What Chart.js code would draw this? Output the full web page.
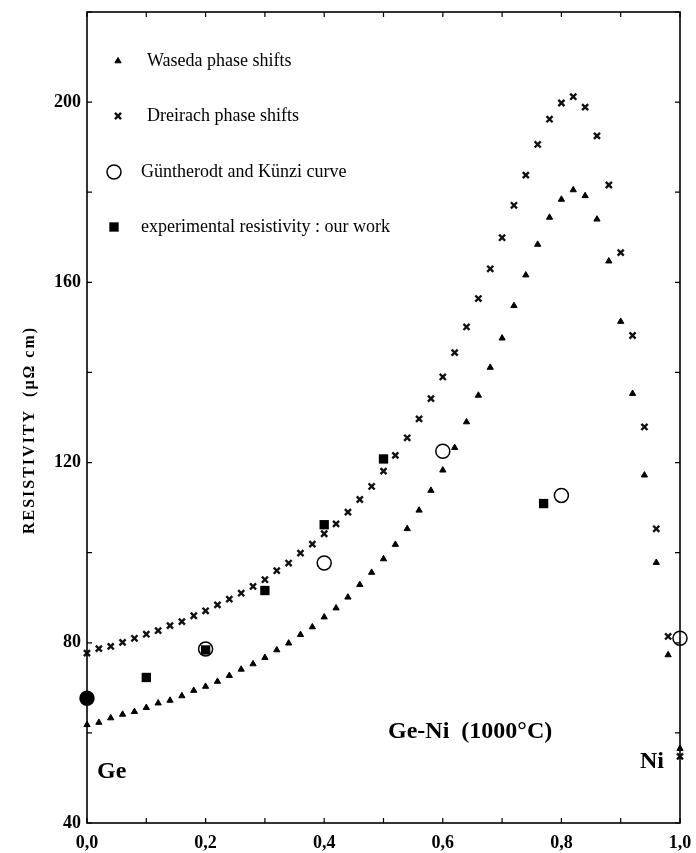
<!DOCTYPE html>
<html>
<head>
<meta charset="utf-8">
<script src="https://cdn.jsdelivr.net/npm/chart.js@4.4.1/dist/chart.umd.min.js"></script>
<style>
  html, body { margin: 0; padding: 0; background: #fff; }
  #wrap { width: 696px; height: 853px; }
</style>
</head>
<body>
<div id="wrap"><canvas id="chartRho" width="696" height="853"></canvas></div>
<script>
// composition x (Ni fraction), step 0.02
const composition = [
  0.00, 0.02, 0.04, 0.06, 0.08, 0.10, 0.12, 0.14, 0.16, 0.18,
  0.20, 0.22, 0.24, 0.26, 0.28, 0.30, 0.32, 0.34, 0.36, 0.38,
  0.40, 0.42, 0.44, 0.46, 0.48, 0.50, 0.52, 0.54, 0.56, 0.58,
  0.60, 0.62, 0.64, 0.66, 0.68, 0.70, 0.72, 0.74, 0.76, 0.78,
  0.80, 0.82, 0.84, 0.86, 0.88, 0.90, 0.92, 0.94, 0.96, 0.98,
  1.00
];
const wasedaRho = [
  61.8, 62.3, 63.3, 64.1, 64.7, 65.6, 66.6, 67.2, 68.2, 69.4,
  70.3, 71.4, 72.7, 74.1, 75.3, 76.7, 78.4, 79.9, 81.8, 83.5,
  85.7, 87.7, 90.1, 92.9, 95.6, 98.6, 101.8, 105.3, 109.4, 113.8,
  118.3, 123.3, 129.0, 134.9, 141.1, 147.6, 154.8, 161.6, 168.4, 174.4,
  178.4, 180.5, 179.2, 174.0, 164.7, 151.3, 135.3, 117.2, 97.8, 77.3,
  56.5
];
const dreirachRho = [
  77.7, 78.7, 79.2, 80.1, 81.0, 81.9, 82.7, 83.8, 84.7, 86.0,
  87.1, 88.4, 89.7, 91.0, 92.5, 94.0, 96.0, 97.7, 99.9, 101.9,
  104.2, 106.4, 109.0, 111.8, 114.7, 118.1, 121.6, 125.5, 129.7, 134.2,
  139.0, 144.4, 150.1, 156.4, 163.0, 169.9, 177.1, 183.8, 190.6, 196.2,
  199.8, 201.2, 198.9, 192.5, 181.6, 166.6, 148.2, 127.9, 105.3, 81.4,
  54.8
];
const guntherodtX = [0.0, 0.2, 0.4, 0.6, 0.8, 1.0];
const guntherodtRho = [67.7, 78.6, 97.7, 122.5, 112.7, 81.0];
const experimentX = [0.0, 0.1, 0.2, 0.3, 0.4, 0.5, 0.77];
const experimentRho = [67.7, 72.3, 78.4, 91.6, 106.2, 120.8, 110.9];

const xTickLabels = ['0,0', '0,2', '0,4', '0,6', '0,8', '1,0'];
const yTickLabels = ['40', '80', '120', '160', '200'];
const yTitle = 'RESISTIVITY  (μΩ cm)';
const legendNames = [
  'Waseda phase shifts',
  'Dreirach phase shifts',
  'Güntherodt and Künzi curve',
  'experimental resistivity : our work'
];

const SERIF = "'Liberation Serif', 'Times New Roman', serif";

function pairs(xs, ys) {
  return xs.map((x, i) => ({ x: x, y: ys[i] }));
}

const styles = {
  waseda: { pointStyle: 'triangle', radius: 3.6, fill: '#000', stroke: '#000', lineWidth: 1 },
  dreirach: { pointStyle: 'crossRot', radius: 4.3, fill: '#000', stroke: '#111', lineWidth: 2.4 },
  guntherodt: { pointStyle: 'circle', radius: 7, fill: 'rgba(0,0,0,0)', stroke: '#000', lineWidth: 1.5 },
  experiment: { pointStyle: 'rect', radius: 6.6, fill: '#000', stroke: '#000', lineWidth: 0 }
};

function ds(label, data, s, extra) {
  return Object.assign({
    label: label,
    data: data,
    pointStyle: s.pointStyle,
    pointRadius: s.radius,
    pointHoverRadius: s.radius,
    pointBackgroundColor: s.fill,
    pointBorderColor: s.stroke,
    pointBorderWidth: s.lineWidth,
    showLine: false,
    clip: false
  }, extra || {});
}

// box, inward ticks, legend, axis title and text labels
const framePlugin = {
  id: 'frame',
  afterDatasetsDraw(chart) {
    const ctx = chart.ctx;
    const { left, right, top, bottom } = chart.chartArea;
    const xs = chart.scales.x, ys = chart.scales.y;
    ctx.save();
    ctx.strokeStyle = '#000';
    ctx.lineWidth = 1.6;
    ctx.strokeRect(left, top, right - left, bottom - top);
    ctx.lineWidth = 1.2;
    ctx.beginPath();
    xs.ticks.forEach(t => {
      const px = xs.getPixelForValue(t.value);
      ctx.moveTo(px, bottom); ctx.lineTo(px, bottom - 5);
      ctx.moveTo(px, top); ctx.lineTo(px, top + 5);
    });
    ys.ticks.forEach(t => {
      const py = ys.getPixelForValue(t.value);
      ctx.moveTo(left, py); ctx.lineTo(left + 5, py);
      ctx.moveTo(right, py); ctx.lineTo(right - 5, py);
    });
    ctx.stroke();

    // legend
    const order = [styles.waseda, styles.dreirach, styles.guntherodt, styles.experiment];
    const rows = [
      { mx: 118, tx: 147, y: 61 },
      { mx: 118, tx: 147, y: 116 },
      { mx: 114, tx: 141, y: 172 },
      { mx: 114, tx: 141, y: 227 }
    ];
    ctx.font = '18px ' + SERIF;
    ctx.textBaseline = 'middle';
    ctx.textAlign = 'left';
    order.forEach((s, i) => {
      const r = rows[i];
      ctx.fillStyle = s.fill;
      ctx.strokeStyle = s.stroke;
      ctx.lineWidth = s.lineWidth;
      Chart.helpers.drawPoint(ctx, { pointStyle: s.pointStyle, radius: s.radius, rotation: 0, borderWidth: s.lineWidth }, r.mx, r.y);
      ctx.fillStyle = '#000';
      ctx.fillText(legendNames[i], r.tx, r.y);
    });

    // y axis title, letter-spaced like the print
    ctx.save();
    ctx.translate(30, 430);
    ctx.rotate(-Math.PI / 2);
    ctx.font = 'bold 16px ' + SERIF;
    ctx.letterSpacing = '2px';
    ctx.textAlign = 'center';
    ctx.textBaseline = 'middle';
    ctx.fillStyle = '#000';
    ctx.fillText(yTitle, 0, 0);
    ctx.restore();

    // annotations
    ctx.font = 'bold 24px ' + SERIF;
    ctx.textBaseline = 'alphabetic';
    ctx.fillStyle = '#000';
    ctx.fillText('Ge', 97, 778);
    ctx.fillText('Ge-Ni  (1000°C)', 388, 738);
    ctx.fillText('Ni', 640, 768);
    ctx.restore();
  }
};

const chart = new Chart(document.getElementById('chartRho'), {
  type: 'scatter',
  data: {
    datasets: [
      ds(legendNames[3], pairs(experimentX, experimentRho), styles.experiment),
      ds(legendNames[2], pairs(guntherodtX, guntherodtRho), styles.guntherodt, {
        pointBackgroundColor: ctx => ctx.dataIndex === 0 ? '#000' : 'rgba(0,0,0,0)'
      }),
      ds(legendNames[0], pairs(composition, wasedaRho), styles.waseda),
      ds(legendNames[1], pairs(composition, dreirachRho), styles.dreirach)
    ]
  },
  options: {
    responsive: false,
    animation: false,
    devicePixelRatio: 1,
    layout: { padding: { left: 0, top: 12, right: 16, bottom: 0 } },
    plugins: {
      legend: { display: false },
      tooltip: { enabled: false }
    },
    scales: {
      x: {
        type: 'linear',
        min: 0,
        max: 1,
        grid: { display: false, drawTicks: false },
        border: { display: false },
        ticks: {
          stepSize: 0.1,
          autoSkip: false,
          maxRotation: 0,
          padding: 10,
          color: '#000',
          font: { family: SERIF, size: 18, weight: 'bold' },
          callback: v => {
            const k = Math.round(v * 10);
            return k % 2 === 0 ? xTickLabels[k / 2] : '';
          }
        },
        afterFit: s => { s.height = 30; s.paddingLeft = 0; s.paddingRight = 0; }
      },
      y: {
        type: 'linear',
        min: 40,
        max: 220,
        grid: { display: false, drawTicks: false },
        border: { display: false },
        ticks: {
          stepSize: 20,
          autoSkip: false,
          padding: 6,
          color: '#000',
          font: { family: SERIF, size: 18, weight: 'bold' },
          callback: v => (v % 40 === 0 && v <= 200) ? yTickLabels[(v - 40) / 40] : ''
        },
        afterFit: s => { s.width = 87; s.paddingTop = 0; s.paddingBottom = 0; }
      }
    }
  },
  plugins: [framePlugin]
});
</script>
</body>
</html>
